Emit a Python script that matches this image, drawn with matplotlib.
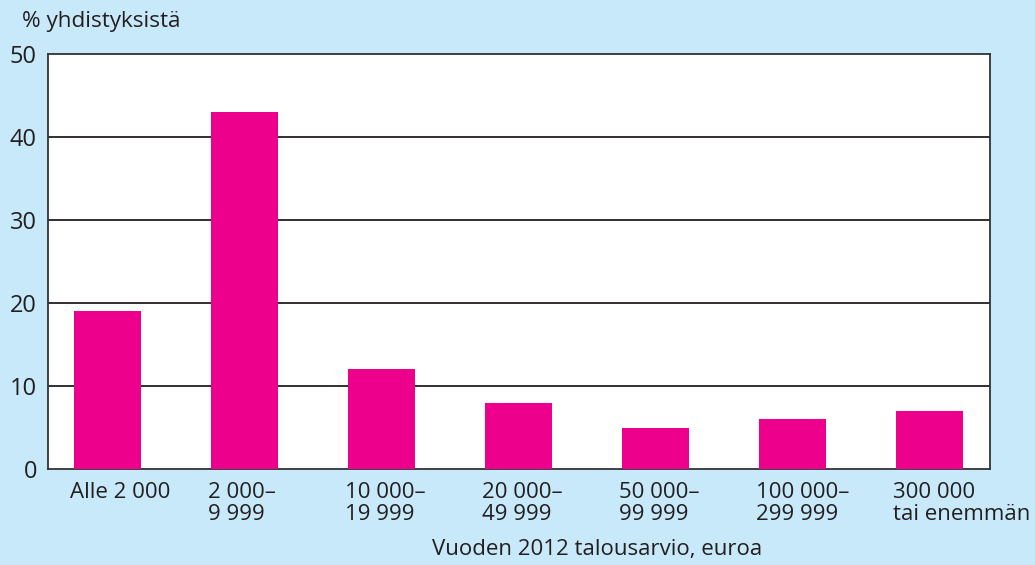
import matplotlib.pyplot as plt

categories = ['Alle 2 000', '2 000–\n9 999', '10 000–\n19 999', '20 000–\n49 999',
              '50 000–\n99 999', '100 000–\n299 999', '300 000\ntai enemmän']
values = [19, 43, 12, 8, 5, 6, 7]
yticks = [0, 10, 20, 30, 40, 50]

plt.rcParams['font.family'] = ['Open Sans', 'DejaVu Sans']
bg = '#c8e9f9'
pink = '#ec008c'
txt = '#231f20'

fig = plt.figure(figsize=(10.35, 5.65), dpi=100, facecolor=bg)
ax = fig.add_axes([48/1035, 1-469/565, 942/1035, 415/565])
ax.set_facecolor('white')

x = list(range(len(values)))
ax.bar(x, values, width=0.49, color=pink, zorder=3)
for y in yticks[1:-1]:
    ax.axhline(y, color='#231f20', lw=1.3, zorder=2)

ax.set_xlim(-0.434, 6.44)
ax.set_ylim(0, 50)
ax.set_yticks(yticks)
ax.set_yticklabels([str(v) for v in yticks], fontsize=17, color=txt)
# labels sit roughly at the left edge of each bar
ax.set_xticks([i - 0.27 for i in x])
ax.set_xticklabels(categories, fontsize=16, color=txt, ha='left',
                   multialignment='left', linespacing=1.08)
ax.tick_params(axis='x', length=0, pad=9)
ax.tick_params(axis='y', length=0, pad=8)
for s in ax.spines.values():
    s.set_color('#333333')
    s.set_linewidth(1.3)

fig.text(22/1035, 1-22/565, '% yhdistyksistä', fontsize=16.2, color=txt, va='center', ha='left')
fig.text(597/1035, 1-550/565, 'Vuoden 2012 talousarvio, euroa', fontsize=16, color=txt,
         va='center', ha='center')

fig.savefig('out.png', dpi=100, facecolor=bg)
